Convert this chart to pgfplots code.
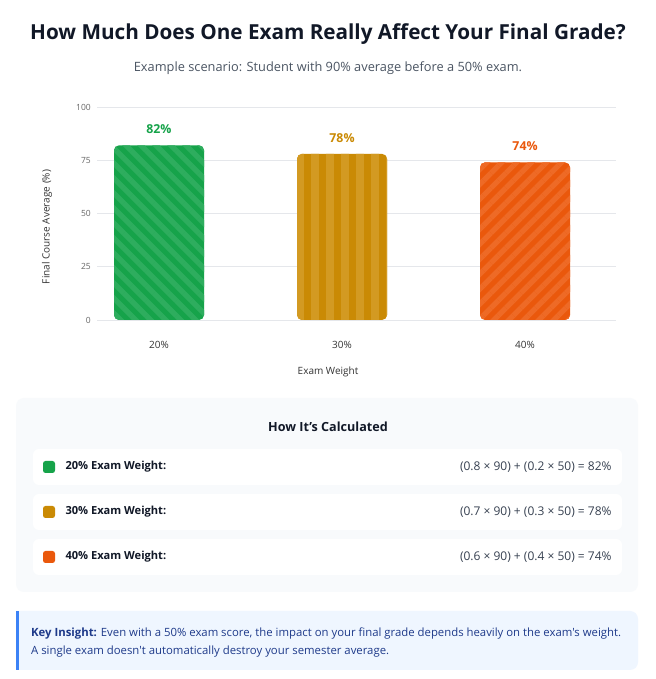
\documentclass[border=0pt]{standalone}
\usepackage{pgfplots}
\pgfplotsset{compat=1.18}
\usepackage{fontspec}
\setmainfont{Open Sans}[Ligatures=TeXOff]
\usetikzlibrary{patterns.meta}

\definecolor{titlecol}{HTML}{111827}
\definecolor{subcol}{HTML}{4B5563}
\definecolor{tickcol}{HTML}{666666}
\definecolor{labelcol}{HTML}{333333}
\definecolor{gridcol}{HTML}{E5E7EB}
\definecolor{gGreen}{HTML}{16A34A}
\definecolor{gGreenL}{HTML}{2EAD5E}
\definecolor{gGold}{HTML}{CA8A04}
\definecolor{gGoldL}{HTML}{D39A22}
\definecolor{gOrange}{HTML}{EA580C}
\definecolor{gOrangeL}{HTML}{EE6A26}
\definecolor{panelbg}{HTML}{F8FAFC}
\definecolor{insightbg}{HTML}{EFF6FF}
\definecolor{insightbar}{HTML}{3B82F6}
\definecolor{insighttext}{HTML}{1E3A8A}
\definecolor{formulacol}{HTML}{374151}

\begin{document}
\begin{tikzpicture}[x=1pt,y=1pt]
% canvas
\fill[white] (0,0) rectangle (655,679);

% heading
\node[font=\fontsize{20.7}{25}\selectfont\bfseries, text=titlecol] at (328,645)
  {How Much Does One Exam Really Affect Your Final Grade?};
\node[font=\fontsize{12.8}{15}\selectfont, text=subcol] at (328,611)
  {Example scenario: Student with 90\% average before a 50\% exam.};

% final average for each exam weight
\begin{axis}[
  at={(97pt,359pt)}, anchor=south west,
  width=519pt, height=213pt, scale only axis,
  xmin=-0.3388, xmax=2.497, ymin=0, ymax=100,
  ytick={0,25,50,75,100},
  xtick={0,1,2}, xticklabels={20\%,30\%,40\%},
  axis line style={draw=none},
  major tick length=0pt,
  ymajorgrids, grid style={gridcol, line width=0.8pt},
  /pgf/number format/assume math mode=true,
  yticklabel style={font=\fontsize{8.5}{10}\selectfont, text=tickcol, inner sep=0pt, xshift=-6pt},
  xticklabel style={font=\fontsize{10}{12}\selectfont, text=labelcol, anchor=base, inner sep=0pt, yshift=-28.5pt},
  ybar, bar width=90pt, bar shift=0pt,
  nodes near coords={\pgfmathprintnumber{\pgfplotspointmeta}\%},
  every node near coord/.append style={font=\fontsize{12.3}{15}\selectfont\bfseries, anchor=center, yshift=16pt},
  clip=false,
]
\addplot[fill=gGreen, draw=none, rounded corners=5pt,
  postaction={pattern={Lines[angle=-45,distance=10.6pt,line width=5.3pt]},pattern color=gGreenL},
  every node near coord/.append style={text=gGreen}]
  coordinates {(0,82)};
\addplot[fill=gGold, draw=none, rounded corners=5pt,
  postaction={pattern={Lines[angle=90,distance=15pt,line width=7.5pt]},pattern color=gGoldL},
  every node near coord/.append style={text=gGold}]
  coordinates {(1,78)};
\addplot[fill=gOrange, draw=none, rounded corners=5pt,
  postaction={pattern={Lines[angle=45,distance=10.6pt,line width=5.3pt]},pattern color=gOrangeL},
  every node near coord/.append style={text=gOrange}]
  coordinates {(2,74)};
\end{axis}

% axis titles
\node[font=\fontsize{10}{12}\selectfont, text=labelcol] at (328,307) {Exam Weight};
\node[font=\fontsize{10}{12}\selectfont, text=labelcol, rotate=90] at (47,452) {Final Course Average (\%)};

% calculation panel
\fill[panelbg, rounded corners=8pt] (16,87) rectangle (638,281);
\node[font=\fontsize{12.6}{15}\selectfont\bfseries, text=titlecol] at (328,252) {How It’s Calculated};

\fill[white, rounded corners=6pt] (33,194) rectangle (622,230);
\fill[gGreen, rounded corners=2.5pt] (43,206) rectangle (55,218);
\node[anchor=west, font=\fontsize{11.1}{13}\selectfont\bfseries, text=titlecol] at (62,212) {20\% Exam Weight:};
\node[anchor=east, font=\fontsize{12}{14}\selectfont, text=formulacol] at (615,212) {(0.8 × 90) + (0.2 × 50) = 82\%};

\fill[white, rounded corners=6pt] (33,149) rectangle (622,185);
\fill[gGold, rounded corners=2.5pt] (43,161) rectangle (55,173);
\node[anchor=west, font=\fontsize{11.1}{13}\selectfont\bfseries, text=titlecol] at (62,167) {30\% Exam Weight:};
\node[anchor=east, font=\fontsize{12}{14}\selectfont, text=formulacol] at (615,167) {(0.7 × 90) + (0.3 × 50) = 78\%};

\fill[white, rounded corners=6pt] (33,104) rectangle (622,140);
\fill[gOrange, rounded corners=2.5pt] (43,116) rectangle (55,128);
\node[anchor=west, font=\fontsize{11.1}{13}\selectfont\bfseries, text=titlecol] at (62,122) {40\% Exam Weight:};
\node[anchor=east, font=\fontsize{12}{14}\selectfont, text=formulacol] at (615,122) {(0.6 × 90) + (0.4 × 50) = 74\%};

% key insight box
\fill[insightbg] (16,9) -- (16,68) [rounded corners=8pt] -- (638,68) -- (638,9) [sharp corners] -- cycle;
\fill[insightbar] (16,9) rectangle (19,68);
\node[anchor=base west, inner sep=0pt, font=\fontsize{11.35}{14}\selectfont, text=insighttext] at (31,42)
  {\textbf{Key Insight:} Even with a 50\% exam score, the impact on your final grade depends heavily on the exam's weight.};
\node[anchor=base west, inner sep=0pt, font=\fontsize{11.35}{14}\selectfont, text=insighttext] at (31,24)
  {A single exam doesn't automatically destroy your semester average.};
\end{tikzpicture}
\end{document}
